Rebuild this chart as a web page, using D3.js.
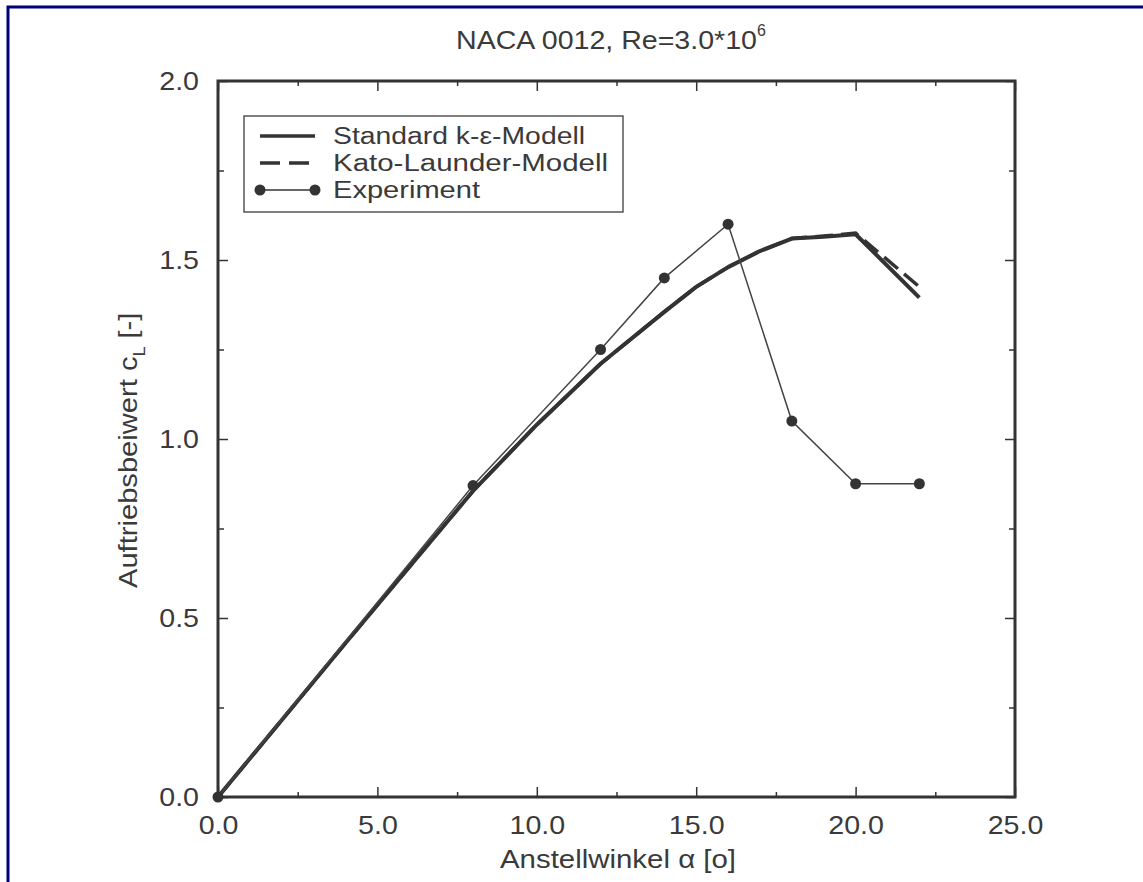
<!DOCTYPE html>
<html>
<head>
<meta charset="utf-8">
<script src="https://cdn.jsdelivr.net/npm/d3@7"></script>
<style>
  body { margin: 0; background: #fff; }
  svg { display: block; }
  text { font-family: "Liberation Sans", Arial, sans-serif; fill: #3a3a3a; }
</style>
</head>
<body>
<div id="chart"></div>
<script>

// data
const alphaModel = [0, 4, 8, 10, 12, 14, 15, 16, 17, 18, 19, 20, 22];
const clStandard = [0, 0.43, 0.855, 1.04, 1.21, 1.355, 1.425, 1.48, 1.525, 1.56, 1.565, 1.572, 1.395];
const clKato     = [0, 0.43, 0.855, 1.04, 1.21, 1.355, 1.425, 1.48, 1.525, 1.56, 1.567, 1.575, 1.425];

const alphaExp = [0, 8, 12, 14, 16, 18, 20, 22];
const clExp    = [0, 0.87, 1.25, 1.45, 1.60, 1.05, 0.875, 0.875];

const xMajor = [0, 5, 10, 15, 20, 25];
const xMinor = [2.5, 7.5, 12.5, 17.5, 22.5];
const yMajor = [0, 0.5, 1.0, 1.5, 2.0];
const yMinor = [0.25, 0.75, 1.25, 1.75];

const legendLabels = ['Standard k-\u03b5-Modell', 'Kato-Launder-Modell', 'Experiment'];
const legendWidths = [252, 275, 147];

const W = 1143, H = 882;
const margin = {top: 81, right: 128, bottom: 85, left: 218};
const width = W - margin.left - margin.right;   // 797
const height = H - margin.top - margin.bottom;  // 716

const ink = '#333';

const svg = d3.select('#chart').append('svg')
    .attr('width', W)
    .attr('height', H);

// dark blue page frame (top + left only)
svg.append('path')
    .attr('d', 'M8,882 L8,7 L1143,7')
    .attr('fill', 'none')
    .attr('stroke', '#00007a')
    .attr('stroke-width', 3);

const g = svg.append('g')
    .attr('transform', 'translate(' + margin.left + ',' + margin.top + ')');

const x = d3.scaleLinear().domain([0, 25]).range([0, width]);
const y = d3.scaleLinear().domain([0, 2]).range([height, 0]);

// stretch helper: the scanned fonts are wider than Liberation Sans
function stretch(sel, f) {
    sel.each(function () {
        const len = this.getComputedTextLength();
        d3.select(this).attr('textLength', len * f).attr('lengthAdjust', 'spacingAndGlyphs');
    });
}

// axes, ticks pointing inward
function axis(gen, values, size, labels) {
    return gen.tickValues(values)
        .tickSizeInner(-size)
        .tickSizeOuter(0)
        .tickPadding(19)
        .tickFormat(labels ? d3.format('.1f') : '');
}

const axBottom = g.append('g').attr('transform', 'translate(0,' + height + ')');
axBottom.append('g').call(axis(d3.axisBottom(x), xMajor, 10, true));
axBottom.append('g').call(axis(d3.axisBottom(x), xMinor, 5, false));

const axTop = g.append('g');
axTop.append('g').call(axis(d3.axisTop(x), xMajor, 10, false));
axTop.append('g').call(axis(d3.axisTop(x), xMinor, 5, false));

const axLeft = g.append('g');
axLeft.append('g').call(axis(d3.axisLeft(y), yMajor, 10, true));
axLeft.append('g').call(axis(d3.axisLeft(y), yMinor, 6, false));

const axRight = g.append('g').attr('transform', 'translate(' + width + ',0)');
axRight.append('g').call(axis(d3.axisRight(y), yMajor, 10, false));
axRight.append('g').call(axis(d3.axisRight(y), yMinor, 6, false));

g.selectAll('.domain').remove();
g.selectAll('.tick line').attr('stroke', ink).attr('stroke-width', 1.5);
g.selectAll('.tick text')
    .style('font-size', '26px')
    .attr('fill', '#3a3a3a')
    .call(stretch, 1.1);

// frame
g.append('rect')
    .attr('width', width)
    .attr('height', height)
    .attr('fill', 'none')
    .attr('stroke', ink)
    .attr('stroke-width', 3);

// curves
const lineModel = (vals) => d3.line()
    .x((d, i) => x(alphaModel[i]))
    .y((d, i) => y(vals[i]))(vals);

g.append('path')
    .attr('d', lineModel(clStandard))
    .attr('fill', 'none')
    .attr('stroke', ink)
    .attr('stroke-width', 4)
    .attr('stroke-linejoin', 'round');

g.append('path')
    .attr('d', lineModel(clKato))
    .attr('fill', 'none')
    .attr('stroke', ink)
    .attr('stroke-width', 3.5)
    .attr('stroke-dasharray', '18,8');

const lineExp = d3.line()
    .x((d, i) => x(alphaExp[i]))
    .y((d, i) => y(clExp[i]));

g.append('path')
    .attr('d', lineExp(clExp))
    .attr('fill', 'none')
    .attr('stroke', '#444')
    .attr('stroke-width', 1.5);

g.selectAll('.dot')
    .data(clExp)
    .enter().append('circle')
    .attr('class', 'dot')
    .attr('cx', (d, i) => x(alphaExp[i]))
    .attr('cy', d => y(d))
    .attr('r', 5.5)
    .attr('fill', ink);

// legend
const legend = svg.append('g').attr('transform', 'translate(244,116)');
legend.append('rect')
    .attr('width', 379)
    .attr('height', 96)
    .attr('fill', '#fff')
    .attr('stroke', '#555')
    .attr('stroke-width', 1.5);

const rowY = [28, 55, 82];
legendLabels.forEach(function (lab, i) {
    const row = legend.append('g').attr('transform', 'translate(0,' + rowY[i] + ')');
    const ly = -8;
    const seg = row.append('line')
        .attr('x1', 16).attr('x2', 71)
        .attr('y1', ly).attr('y2', ly)
        .attr('stroke', ink);
    if (i === 0) seg.attr('stroke-width', 3.5);
    if (i === 1) seg.attr('stroke-width', 3.5).attr('stroke-dasharray', '20,9');
    if (i === 2) {
        seg.attr('stroke-width', 1.5);
        row.selectAll('circle').data([16, 71]).enter().append('circle')
            .attr('cx', d => d).attr('cy', ly).attr('r', 5.5).attr('fill', ink);
    }
    row.append('text')
        .attr('x', 89)
        .style('font-size', '23px')
        .attr('textLength', legendWidths[i])
        .attr('lengthAdjust', 'spacingAndGlyphs')
        .text(lab);
});

// title
const title = svg.append('text')
    .attr('x', 456)
    .attr('y', 49)
    .style('font-size', '25px');
title.append('tspan').text('NACA 0012, Re=3.0*10').attr('textLength', 301).attr('lengthAdjust', 'spacingAndGlyphs');
title.append('tspan').text('6').attr('dy', -13).style('font-size', '16px');

// x label
svg.append('text')
    .attr('x', 500)
    .attr('y', 868)
    .style('font-size', '25px')
    .attr('textLength', 236)
    .attr('lengthAdjust', 'spacingAndGlyphs')
    .text('Anstellwinkel \u03b1 [o]');

// y label
const yl = svg.append('text')
    .attr('transform', 'translate(137,588) rotate(-90)')
    .style('font-size', '26px');
yl.append('tspan').text('Auftriebsbeiwert c');
yl.append('tspan').text('L').attr('dy', 8).style('font-size', '16px');
yl.append('tspan').text(' [-]').attr('dy', -8);
stretch(yl, 1.12);

</script>
</body>
</html>
